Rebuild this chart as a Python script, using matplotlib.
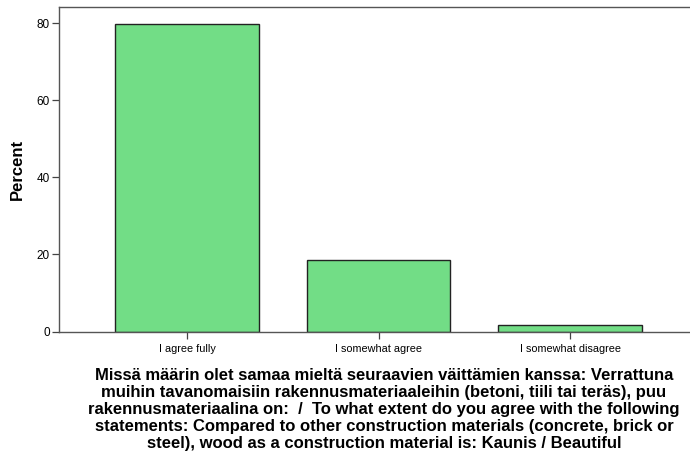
import matplotlib
matplotlib.use("Agg")
import matplotlib.pyplot as plt

categories = ["I agree fully", "I somewhat agree", "I somewhat disagree"]
values = [79.9, 18.5, 1.6]
yticks = [0, 20, 40, 60, 80]
xlabel = ("Missä määrin olet samaa mieltä seuraavien väittämien kanssa: Verrattuna\n"
          "muihin tavanomaisiin rakennusmateriaaleihin (betoni, tiili tai teräs), puu\n"
          "rakennusmateriaalina on:  /  To what extent do you agree with the following\n"
          "statements: Compared to other construction materials (concrete, brick or\n"
          "steel), wood as a construction material is: Kaunis / Beautiful")

plt.rcParams['font.family'] = ['Liberation Sans', 'DejaVu Sans']

fig = plt.figure(figsize=(6.9, 4.53), dpi=100)
W, H = 690, 453
left, right, top, bottom = 59, 698, 7, 331.5
ax = fig.add_axes([left / W, 1 - bottom / H, (right - left) / W, (bottom - top) / H])

x = list(range(len(categories)))
ax.bar(x, values, width=0.75, color="#72dd86", edgecolor="#222222", linewidth=1.0, zorder=2)

ax.set_xlim(-0.668, 2.668)
ax.set_ylim(0, 84.2)
ax.set_yticks(yticks)
ax.set_yticklabels([str(v) for v in yticks], fontsize=8.5)
ax.set_xticks(x)
ax.set_xticklabels(categories, fontsize=7.8)
ax.tick_params(axis='y', length=5, width=0.9, color="#444444", pad=1.5)
ax.tick_params(axis='x', length=5, width=0.9, color="#444444", pad=4)

for s in ax.spines.values():
    s.set_color("#555555")
    s.set_linewidth(1.0)

ax.set_ylabel("Percent", fontsize=12, fontweight='bold')
ax.yaxis.set_label_coords(-(59 - 24.5) / (right - left), 0.5, transform=ax.transAxes)
ax.set_xlabel(xlabel, fontsize=12, fontweight='bold', linespacing=1.16, va='top')
ax.xaxis.set_label_coords((384 - left) / (right - left), -(368 - bottom) / (bottom - top))

fig.savefig("out.png", dpi=100)
